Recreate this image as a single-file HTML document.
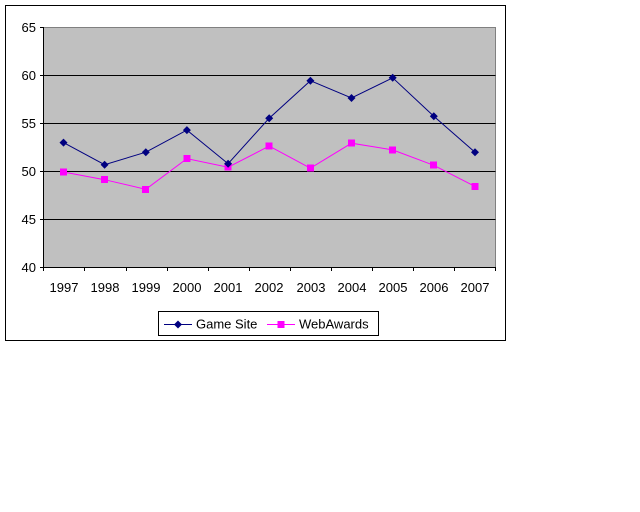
<!DOCTYPE html>
<html><head><style>body{margin:0;background:#fff}svg{display:block}text{font-family:"Liberation Sans",Arial,sans-serif;font-size:13px;fill:#000}</style></head>
<body>
<svg width="640" height="512" xmlns="http://www.w3.org/2000/svg">
<rect x="5.5" y="5.5" width="500" height="335" fill="#fff" stroke="#000"/>
<rect x="43.5" y="27.5" width="452" height="240" fill="#c0c0c0" stroke="#808080"/>
<g stroke="#000" stroke-width="1">
<line x1="43.5" y1="75.5" x2="495.5" y2="75.5"/>
<line x1="43.5" y1="123.5" x2="495.5" y2="123.5"/>
<line x1="43.5" y1="171.5" x2="495.5" y2="171.5"/>
<line x1="43.5" y1="219.5" x2="495.5" y2="219.5"/>
<line x1="43.5" y1="27" x2="43.5" y2="267.5"/>
<line x1="43.5" y1="267.5" x2="495.5" y2="267.5"/>
<line x1="40" y1="27.5" x2="43.5" y2="27.5"/>
<line x1="40" y1="75.5" x2="43.5" y2="75.5"/>
<line x1="40" y1="123.5" x2="43.5" y2="123.5"/>
<line x1="40" y1="171.5" x2="43.5" y2="171.5"/>
<line x1="40" y1="219.5" x2="43.5" y2="219.5"/>
<line x1="40" y1="267.5" x2="43.5" y2="267.5"/>
<line x1="43.5" y1="267" x2="43.5" y2="271"/><line x1="84.5" y1="267" x2="84.5" y2="271"/><line x1="126.5" y1="267" x2="126.5" y2="271"/><line x1="167.5" y1="267" x2="167.5" y2="271"/><line x1="208.5" y1="267" x2="208.5" y2="271"/><line x1="249.5" y1="267" x2="249.5" y2="271"/><line x1="290.5" y1="267" x2="290.5" y2="271"/><line x1="331.5" y1="267" x2="331.5" y2="271"/><line x1="372.5" y1="267" x2="372.5" y2="271"/><line x1="413.5" y1="267" x2="413.5" y2="271"/><line x1="454.5" y1="267" x2="454.5" y2="271"/><line x1="495.5" y1="267" x2="495.5" y2="271"/>
</g>
<g text-anchor="end">
<text x="36" y="32">65</text><text x="36" y="80">60</text><text x="36" y="128">55</text><text x="36" y="176">50</text><text x="36" y="224">45</text><text x="36" y="272">40</text>
</g>
<g text-anchor="middle">
<text x="64" y="292">1997</text><text x="105" y="292">1998</text><text x="146" y="292">1999</text><text x="187" y="292">2000</text><text x="228" y="292">2001</text><text x="269" y="292">2002</text><text x="311" y="292">2003</text><text x="352" y="292">2004</text><text x="393" y="292">2005</text><text x="434" y="292">2006</text><text x="475" y="292">2007</text>
</g>
<polyline fill="none" stroke="#ff00ff" points="63.5,172 104.6,179.7 145.8,189.3 186.9,158.6 228.1,167.2 269.2,146.1 310.4,168.2 351.5,143.2 392.7,149.9 433.8,165.3 475,186.4"/>
<g fill="#ff00ff">
<rect x="60" y="168.5" width="7" height="7"/><rect x="101" y="176" width="7" height="7"/><rect x="142" y="186" width="7" height="7"/><rect x="183.5" y="155" width="7" height="7"/><rect x="224.5" y="163.5" width="7" height="7"/><rect x="265.5" y="142.5" width="7" height="7"/><rect x="307" y="164.5" width="7" height="7"/><rect x="348" y="139.5" width="7" height="7"/><rect x="389" y="146.5" width="7" height="7"/><rect x="430" y="161.5" width="7" height="7"/><rect x="471.5" y="183" width="7" height="7"/>
</g>
<polyline fill="none" stroke="#000080" points="63.5,142.6 104.6,164.7 145.8,152.2 186.9,130.1 228.1,163.7 269.2,118.2 310.4,80.7 351.5,98 392.7,77.8 433.8,116.3 475,152.2"/>
<g fill="#000080">
<path d="M63.5,138.6l4,4-4,4-4-4z M104.6,160.7l4,4-4,4-4-4z M145.8,148.2l4,4-4,4-4-4z M186.9,126.1l4,4-4,4-4-4z M228.1,159.7l4,4-4,4-4-4z M269.2,114.2l4,4-4,4-4-4z M310.4,76.7l4,4-4,4-4-4z M351.5,94l4,4-4,4-4-4z M392.7,73.8l4,4-4,4-4-4z M433.8,112.3l4,4-4,4-4-4z M475,148.2l4,4-4,4-4-4z"/>
</g>
<rect x="158.5" y="311.5" width="220" height="24" fill="#fff" stroke="#000"/>
<line x1="164" y1="324.5" x2="192" y2="324.5" stroke="#000080"/>
<path d="M178,320.5l4,4-4,4-4-4z" fill="#000080"/>
<text x="196" y="328.5">Game Site</text>
<line x1="267" y1="324.5" x2="295" y2="324.5" stroke="#ff00ff"/>
<rect x="277.5" y="321" width="7" height="7" fill="#ff00ff"/>
<text x="299" y="328.5">WebAwards</text>
</svg>
</body></html>
